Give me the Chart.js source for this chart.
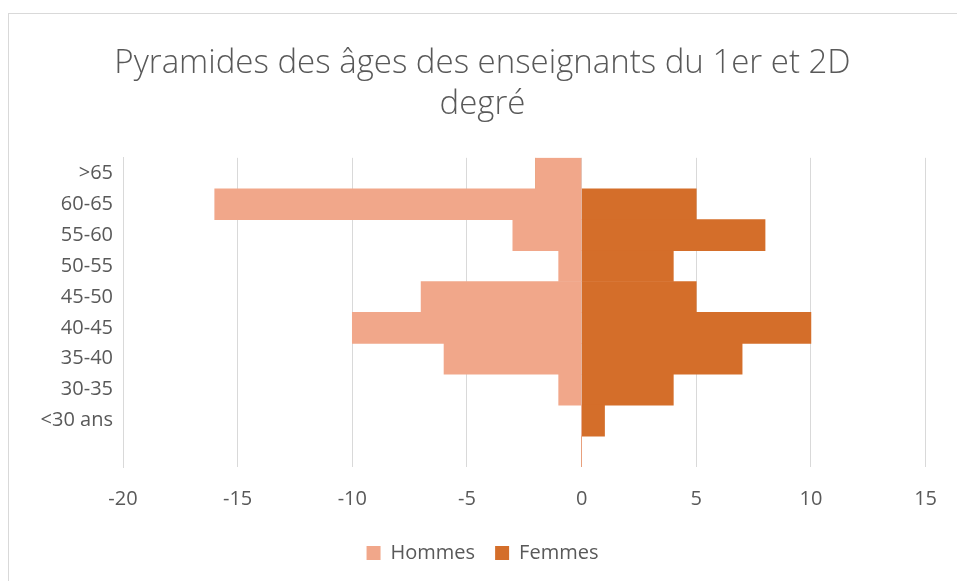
<!DOCTYPE html>
<html>
<head>
<meta charset="utf-8">
<script src="https://cdn.jsdelivr.net/npm/chart.js@4/dist/chart.umd.min.js"></script>
<style>
    body { margin: 0; background: #fff; }
    #wrap { position: relative; width: 957px; height: 581px; overflow: hidden; }
    #frame { position: absolute; left: 8px; top: 13px; width: 1000px; height: 700px;
             border-left: 1px solid #d9d9d9; border-top: 1px solid #d9d9d9; }
    canvas { position: absolute; left: 0; top: 0; }
</style>
</head>
<body>
<div id="wrap">
    <div id="frame"></div>
    <canvas id="root" width="957" height="581"></canvas>
</div>
<script>
// tranches d'âge, du haut vers le bas (dernière ligne vide comme dans Excel)
const ages = ['>65', '60-65', '55-60', '50-55', '45-50', '40-45', '35-40', '30-35', '<30 ans', '']
const hommes = [-2, -16, -3, -1, -7, -10, -6, -1, 0, 0]
const femmes = [0, 5, 8, 4, 5, 10, 7, 4, 1, 0]
const xTicks = [-20, -15, -10, -5, 0, 5, 10, 15]

const grey = '#595959'
const gridGrey = '#d9d9d9'

let ctx = document.getElementById('root').getContext('2d')

let config = {
    type: 'bar',
    data: {
        labels: ages,
        datasets: [
            {
                label: 'Hommes',
                data: hommes,
                backgroundColor: '#f1a78a',
                categoryPercentage: 1,
                barPercentage: 1
            },
            {
                label: 'Femmes',
                data: femmes,
                backgroundColor: '#d46e2a',
                categoryPercentage: 1,
                barPercentage: 1
            }
        ]
    },
    options: {
        indexAxis: 'y',
        responsive: false,
        animation: false,
        layout: {
            padding: { left: 38, right: 30, top: 0, bottom: 8 }
        },
        scales: {
            x: {
                stacked: true,
                min: xTicks[0],
                max: xTicks[xTicks.length - 1],
                afterBuildTicks: scale => {
                    scale.ticks = xTicks.map(v => ({ value: v }))
                },
                grid: { color: gridGrey, lineWidth: 1, drawTicks: false },
                border: { display: false },
                ticks: {
                    color: grey,
                    padding: 20,
                    font: { family: 'Open Sans', size: 20 }
                },
                afterFit: scale => { scale.height = 56 }
            },
            y: {
                stacked: true,
                grid: { display: false, drawTicks: false },
                border: { display: true, color: gridGrey },
                ticks: {
                    color: grey,
                    padding: 10,
                    autoSkip: false,
                    font: { family: 'Open Sans', size: 20 }
                },
                afterFit: scale => { scale.width = 85 }
            }
        },
        plugins: {
            title: {
                display: true,
                text: ['Pyramides des âges des enseignants du 1er et 2D', 'degré'],
                color: grey,
                font: { family: 'Open Sans', size: 33, weight: '300', lineHeight: 1.24 },
                padding: { top: 43, bottom: 33 }
            },
            legend: {
                position: 'bottom',
                labels: {
                    color: grey,
                    boxWidth: 14,
                    boxHeight: 14,
                    padding: 20,
                    font: { family: 'Open Sans', size: 20 }
                }
            },
            tooltip: { enabled: false }
        }
    }
}

let myChart = new Chart(ctx, config)
</script>
</body>
</html>
